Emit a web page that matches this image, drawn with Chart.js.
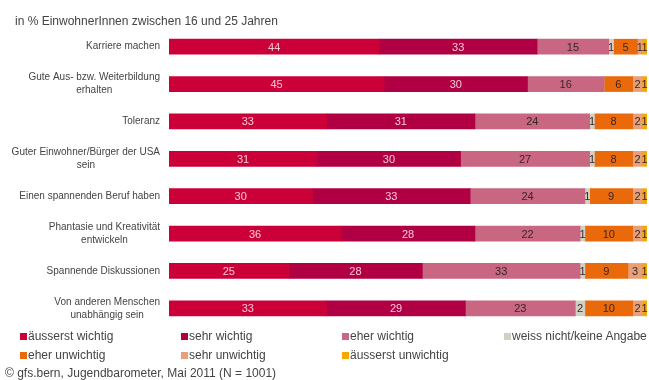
<!DOCTYPE html>
<html lang="de">
<head>
<meta charset="utf-8">
<title>Jugendbarometer 2011</title>
<script src="https://cdn.jsdelivr.net/npm/chart.js@4.4.1/dist/chart.umd.min.js"></script>
<style>
  body { margin: 0; background: #fff; font-family: "Liberation Sans", Arial, sans-serif; color: #444; }
  #wrap { position: relative; width: 649px; height: 380px; overflow: hidden; }
  #chart { position: absolute; left: 0; top: 0; }
  .txt { position: absolute; font-size: 12px; line-height: 14px; height: 14px; white-space: nowrap; color: #444; }
  .legend-item i { display: inline-block; width: 7px; height: 7px; margin: 4px 1px 0 0; vertical-align: top; }
</style>
</head>
<body>
<div id="wrap">
  <canvas id="chart" width="649" height="380"></canvas>
  <div class="txt" style="left:15px; top:14px;">in % EinwohnerInnen zwischen 16 und 25 Jahren</div>
  <div id="legend"></div>
  <div class="txt" style="left:5px; top:366px;">© gfs.bern, Jugendbarometer, Mai 2011 (N = 1001)</div>
</div>
<script>
// Antwortkategorien (Zeilen)
const categories = [
  ['Karriere machen'],
  ['Gute Aus- bzw. Weiterbildung', 'erhalten'],
  ['Toleranz'],
  ['Guter Einwohner/Bürger der USA', 'sein'],
  ['Einen spannenden Beruf haben'],
  ['Phantasie und Kreativität', 'entwickeln'],
  ['Spannende Diskussionen'],
  ['Von anderen Menschen', 'unabhängig sein']
];

// Werte in %
const aeusserstWichtig   = [44, 45, 33, 31, 30, 36, 25, 33];
const sehrWichtig        = [33, 30, 31, 30, 33, 28, 28, 29];
const eherWichtig        = [15, 16, 24, 27, 24, 22, 33, 23];
const weissNicht         = [1, 0, 1, 1, 1, 1, 1, 2];
const eherUnwichtig      = [5, 6, 8, 8, 9, 10, 9, 10];
const sehrUnwichtig      = [1, 2, 2, 2, 2, 2, 3, 2];
const aeusserstUnwichtig = [1, 1, 1, 1, 1, 1, 1, 1];

const seriesNames = ['äusserst wichtig', 'sehr wichtig', 'eher wichtig', 'weiss nicht/keine Angabe',
  'eher unwichtig', 'sehr unwichtig', 'äusserst unwichtig'];
const seriesData = [aeusserstWichtig, sehrWichtig, eherWichtig, weissNicht,
  eherUnwichtig, sehrUnwichtig, aeusserstUnwichtig];
const seriesColors = ['#cc0038', '#b00043', '#c96681', '#d1d1c3', '#ea6a0b', '#e8a07a', '#f5a800'];

// Zahlen in den Balken
const valueLabels = {
  id: 'valueLabels',
  afterDatasetsDraw(chart) {
    const ctx = chart.ctx;
    ctx.save();
    ctx.font = '11px "Liberation Sans", Arial, sans-serif';
    ctx.textAlign = 'center';
    ctx.textBaseline = 'middle';
    chart.data.datasets.forEach((ds, di) => {
      chart.getDatasetMeta(di).data.forEach((bar, i) => {
        const v = ds.data[i];
        if (!v) return;
        ctx.fillStyle = di < 2 ? '#f6c9d5' : '#3a2626';
        ctx.fillText(String(v), (bar.x + bar.base) / 2, bar.y + 1);
      });
    });
    ctx.restore();
  }
};

// Kategorienbeschriftung, mehrzeilig zentriert und rechtsbündig an der Achse
const categoryLabels = {
  id: 'categoryLabels',
  afterDraw(chart) {
    const ctx = chart.ctx;
    const y = chart.scales.y;
    const lineH = 13;
    ctx.save();
    ctx.font = '10px "Liberation Sans", Arial, sans-serif';
    ctx.fillStyle = '#444';
    ctx.textAlign = 'center';
    ctx.textBaseline = 'middle';
    categories.forEach((lines, i) => {
      const w = Math.max(...lines.map(l => ctx.measureText(l).width));
      const cx = y.right - 9 - w / 2;
      const cy = y.getPixelForTick(i);
      lines.forEach((l, k) => {
        ctx.fillText(l, cx, cy + (k - (lines.length - 1) / 2) * lineH);
      });
    });
    ctx.restore();
  }
};

new Chart(document.getElementById('chart'), {
  type: 'bar',
  data: {
    labels: categories,
    datasets: seriesNames.map((name, i) => ({
      label: name,
      data: seriesData[i],
      backgroundColor: seriesColors[i],
      borderWidth: 0,
      barThickness: 15
    }))
  },
  options: {
    indexAxis: 'y',
    responsive: false,
    animation: false,
    layout: { padding: { top: 28, bottom: 53, left: 0, right: 2 } },
    scales: {
      x: { stacked: true, min: 0, max: 100, display: false },
      y: {
        stacked: true,
        grid: { display: false, drawTicks: false },
        border: { display: false },
        ticks: { display: false },
        afterFit: scale => { scale.width = 169; }
      }
    },
    plugins: {
      legend: { display: false },
      tooltip: { enabled: false }
    }
  },
  plugins: [valueLabels, categoryLabels]
});

// Legende in zwei Zeilen zu vier Spalten
const legendCols = [20, 181, 342, 504];
const legendEl = document.getElementById('legend');
seriesNames.forEach((name, i) => {
  const item = document.createElement('div');
  item.className = 'txt legend-item';
  item.style.left = legendCols[i % 4] + 'px';
  item.style.top = (i < 4 ? 329 : 348) + 'px';
  item.innerHTML = '<i style="background:' + seriesColors[i] + '"></i>' + name;
  legendEl.appendChild(item);
});
</script>
</body>
</html>
